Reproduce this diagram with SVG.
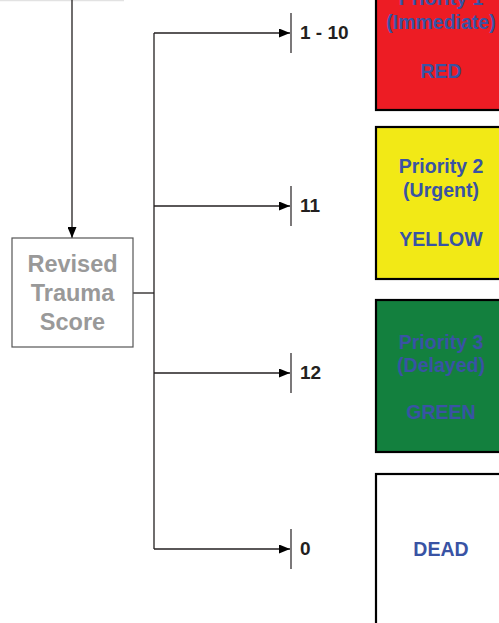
<svg xmlns="http://www.w3.org/2000/svg" width="499" height="623" viewBox="0 0 499 623">
  <style>
    .conn { fill: none; stroke: #231f20; stroke-width: 1.3; }
    .tick { stroke: #231f20; stroke-width: 1.2; }
    .lbl { font-family: "Liberation Sans", Arial, sans-serif; font-weight: bold; font-size: 19px; fill: #231f20; }
    .cat { stroke: #000; stroke-width: 2.2; }
    .cat-t { font-family: "Liberation Sans", Arial, sans-serif; font-weight: bold; font-size: 19.5px; fill: #3953a4; text-anchor: middle; }
    .rts { fill: #fff; stroke: #555; stroke-width: 1.2; }
    .rts-t { font-family: "Liberation Sans", Arial, sans-serif; font-weight: bold; font-size: 23.5px; fill: #999; text-anchor: middle; }
  </style>
  <defs>
    <marker id="arr" markerWidth="11" markerHeight="9" refX="11" refY="4.5" orient="auto" markerUnits="userSpaceOnUse">
      <path d="M0,0 L11,4.5 L0,9 Z" fill="#000"/>
    </marker>
  </defs>

  <!-- faint rule at the top edge -->
  <line x1="0" y1="0.5" x2="124" y2="0.5" stroke="#e2e2e2" stroke-width="1.5"/>

  <g id="connectors">
    <line class="conn" x1="72" y1="0" x2="72" y2="238" marker-end="url(#arr)"/>
    <line class="conn" x1="133" y1="293" x2="154" y2="293"/>
    <line class="conn" x1="154" y1="33" x2="154" y2="549"/>
    <line class="conn" x1="154" y1="33" x2="290" y2="33" marker-end="url(#arr)"/>
    <line class="conn" x1="154" y1="206" x2="290" y2="206" marker-end="url(#arr)"/>
    <line class="conn" x1="154" y1="373" x2="290" y2="373" marker-end="url(#arr)"/>
    <line class="conn" x1="154" y1="549" x2="290" y2="549" marker-end="url(#arr)"/>
  </g>

  <g id="rts">
    <rect class="rts" x="12" y="238" width="121" height="109"/>
    <text class="rts-t" x="72.5" y="271.5">Revised</text>
    <text class="rts-t" x="72.5" y="300.5">Trauma</text>
    <text class="rts-t" x="72.5" y="329.5">Score</text>
  </g>

  <g id="score-1-10">
    <line class="tick" x1="291" y1="13" x2="291" y2="53"/>
    <text class="lbl" x="300" y="39">1 - 10</text>
  </g>
  <g id="score-11">
    <line class="tick" x1="291" y1="186" x2="291" y2="226"/>
    <text class="lbl" x="300" y="212">11</text>
  </g>
  <g id="score-12">
    <line class="tick" x1="291" y1="353" x2="291" y2="393"/>
    <text class="lbl" x="300" y="379">12</text>
  </g>
  <g id="score-0">
    <line class="tick" x1="291" y1="529" x2="291" y2="569"/>
    <text class="lbl" x="300" y="555">0</text>
  </g>

  <g id="priority-1">
    <rect class="cat" x="376" y="-42" width="132" height="152" fill="#ed1c24"/>
    <text class="cat-t" x="441" y="5">Priority 1</text>
    <text class="cat-t" x="441" y="29">(Immediate)</text>
    <text class="cat-t" x="441" y="78">RED</text>
  </g>
  <g id="priority-2">
    <rect class="cat" x="376" y="127" width="132" height="152" fill="#f2e916"/>
    <text class="cat-t" x="441" y="173">Priority 2</text>
    <text class="cat-t" x="441" y="197">(Urgent)</text>
    <text class="cat-t" x="441" y="246">YELLOW</text>
  </g>
  <g id="priority-3">
    <rect class="cat" x="376" y="300" width="132" height="152" fill="#13803e"/>
    <text class="cat-t" x="441" y="349">Priority 3</text>
    <text class="cat-t" x="441" y="372">(Delayed)</text>
    <text class="cat-t" x="441" y="419">GREEN</text>
  </g>
  <g id="dead">
    <rect class="cat" x="376" y="474" width="132" height="160" fill="#fff"/>
    <text class="cat-t" x="441" y="556">DEAD</text>
  </g>
</svg>
